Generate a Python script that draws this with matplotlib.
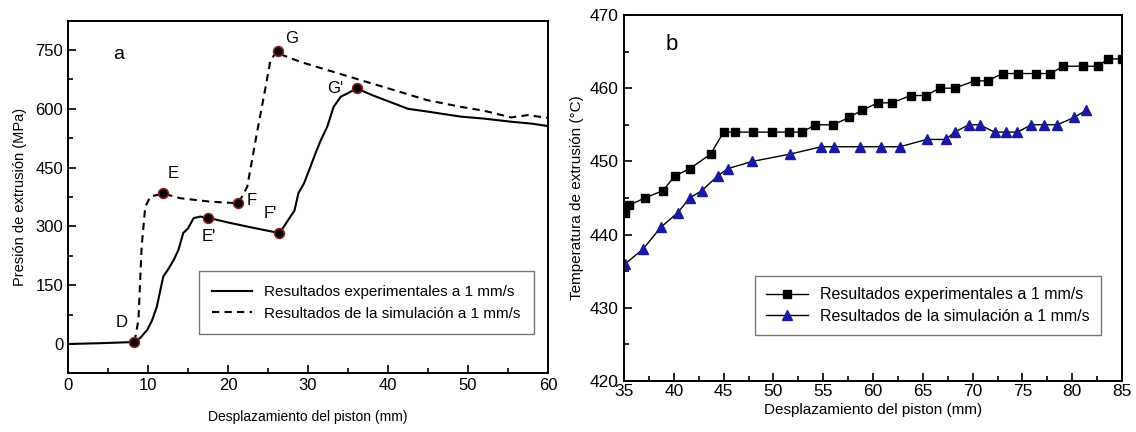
import numpy as np
import matplotlib
matplotlib.use("Agg")
from matplotlib import pyplot as plt
from matplotlib.ticker import MultipleLocator

plt.rcParams['font.family'] = ['Liberation Sans', 'DejaVu Sans']

# ---- panel a: extrusion pressure vs piston displacement
exp_x = [0, 4, 8.3, 9.0, 9.9, 10.5, 11.1, 11.9, 12.5, 13.2, 13.8, 14.4, 15.0, 15.7, 16.5, 17.5,
         20, 23, 26.4, 27.0, 27.8, 28.3, 28.8, 29.5, 30.3, 31.0, 31.6, 32.4, 33.2, 34.1, 35, 36.1,
         38, 40.7, 42.5, 44.9, 49.1, 52, 55.4, 58, 60]
exp_y = [0, 2, 5, 15, 36, 60, 95, 172, 190, 214, 240, 283, 295, 321, 325, 322,
         310, 297, 283, 300, 325, 340, 385, 410, 452, 490, 520, 554, 605, 631, 640, 652,
         635, 614, 600, 593, 580, 575, 567, 562, 556]
sim_x = [8.3, 8.8, 9.2, 9.65, 10.3, 11.9, 14, 17.8, 21.3, 22.4, 23.6, 24.7, 25.3, 26.2, 26.7,
         29, 32.4, 36.6, 40.7, 44.9, 49.1, 52, 55.4, 57.5, 59.5, 60]
sim_y = [5, 61, 248, 350, 376, 384, 372, 363, 359, 401, 537, 656, 724, 748, 738,
         720, 699, 673, 648, 622, 605, 595, 578, 584, 578, 577]

pt_names = ["D", "E", "F", "G", "E'", "F'", "G'"]
pt_x = [8.3, 11.9, 21.3, 26.2, 17.5, 26.4, 36.1]
pt_y = [5, 384, 359, 748, 322, 283, 652]
lab_x = [6.75, 13.1, 22.9, 28.0, 17.6, 25.3, 33.4]
lab_y = [56, 436, 367, 780, 273, 334, 653]

# ---- panel b: extrusion temperature vs piston displacement
t_exp_x = [35.1, 35.5, 37.1, 38.9, 40.1, 41.6, 43.7, 45.0, 46.1, 48.0, 49.9, 51.6, 52.9, 54.2,
           56.0, 57.6, 58.9, 60.5, 61.9, 63.8, 65.3, 66.7, 68.2, 70.2, 71.5, 73.0, 74.6, 76.4,
           77.8, 79.1, 81.1, 82.6, 83.6, 85.0]
t_exp_y = [443, 444, 445, 446, 448, 449, 451, 454, 454, 454, 454, 454, 454, 455,
           455, 456, 457, 458, 458, 459, 459, 460, 460, 461, 461, 462, 462, 462,
           462, 463, 463, 463, 464, 464]
t_sim_x = [35.1, 36.9, 38.7, 40.4, 41.6, 42.8, 44.4, 45.4, 47.9, 51.7, 54.8, 56.1, 58.7, 60.8,
           62.7, 65.4, 67.3, 68.2, 69.6, 70.7, 72.2, 73.4, 74.5, 75.9, 77.2, 78.5, 80.2, 81.4]
t_sim_y = [436, 438, 441, 443, 445, 446, 448, 449, 450, 451, 452, 452, 452, 452,
           452, 453, 453, 454, 455, 455, 454, 454, 454, 455, 455, 455, 456, 457]

lbl_exp = "Resultados experimentales a 1 mm/s"
lbl_sim = "Resultados de la simulación a 1 mm/s"

fig = plt.figure(figsize=(11.36, 4.32), dpi=100)
ax1 = fig.add_axes([0.0599, 0.1366, 0.4225, 0.8148])
ax2 = fig.add_axes([0.5493, 0.1181, 0.4384, 0.8472])

ax1.plot(exp_x, exp_y, color='black', lw=1.5, label=lbl_exp)
ax1.plot(sim_x, sim_y, color='black', lw=1.5, ls=(0, (3.5, 2.5)), label=lbl_sim)
ax1.plot(pt_x, pt_y, ls='none', marker='o', ms=7, mfc='black', mec='#8b1a1a', mew=1.2, zorder=5)
for name, lx, ly in zip(pt_names, lab_x, lab_y):
    ax1.text(lx, ly, name, fontsize=12, ha='center', va='center')
ax1.text(0.105, 0.905, "a", transform=ax1.transAxes, fontsize=14, ha='center', va='center')

ax1.set_xlim(0, 60)
ax1.set_ylim(-74, 824)
ax1.xaxis.set_major_locator(MultipleLocator(10))
ax1.xaxis.set_minor_locator(MultipleLocator(5))
ax1.yaxis.set_major_locator(MultipleLocator(150))
ax1.yaxis.set_minor_locator(MultipleLocator(75))
ax1.tick_params(which='both', direction='in', top=False, right=False, labelsize=12, width=1.2)
ax1.tick_params(which='major', length=6)
ax1.tick_params(which='minor', length=3.5)
ax1.set_xlabel("Desplazamiento del piston (mm)", fontsize=10, labelpad=12)
ax1.set_ylabel("Presión de extrusión (MPa)", fontsize=10.5, labelpad=6)
leg1 = ax1.legend(loc='lower right', bbox_to_anchor=(0.9875, 0.088), fontsize=11,
                  frameon=True, fancybox=False, edgecolor='#555555', handlelength=2.6,
                  borderpad=0.9, labelspacing=0.5)
leg1.get_frame().set_linewidth(1.0)

ax2.plot(t_exp_x, t_exp_y, color='black', lw=1.0, marker='s', ms=6, mfc='black', mec='black',
         label=lbl_exp, clip_on=True)
ax2.plot(t_sim_x, t_sim_y, color='black', lw=1.0, marker='^', ms=7.5, mfc='#1a1aa0',
         mec='#1a1aa0', label=lbl_sim)
ax2.text(0.095, 0.92, "b", transform=ax2.transAxes, fontsize=16, ha='center', va='center')

ax2.set_xlim(35, 85)
ax2.set_ylim(420, 470)
ax2.xaxis.set_major_locator(MultipleLocator(5))
ax2.xaxis.set_minor_locator(MultipleLocator(2.5))
ax2.yaxis.set_major_locator(MultipleLocator(10))
ax2.yaxis.set_minor_locator(MultipleLocator(5))
ax2.tick_params(which='both', direction='in', top=False, right=False, labelsize=12.5, width=1.2)
ax2.tick_params(axis='x', pad=2)
ax2.tick_params(axis='y', pad=4)
ax2.tick_params(which='major', length=6)
ax2.tick_params(which='minor', length=3.5)
ax2.set_xlabel("Desplazamiento del piston (mm)", fontsize=11, labelpad=3)
ax2.set_ylabel("Temperatura de extrusión (°C)", fontsize=11, labelpad=4)
leg2 = ax2.legend(loc='lower right', bbox_to_anchor=(0.974, 0.104), fontsize=11.5,
                  frameon=True, fancybox=False, edgecolor='#555555', handlelength=2.6,
                  borderpad=0.7, labelspacing=0.4)
leg2.get_frame().set_linewidth(1.0)

for ax in (ax1, ax2):
    for sp in ax.spines.values():
        sp.set_linewidth(1.4)

fig.savefig("out.png", dpi=100)
